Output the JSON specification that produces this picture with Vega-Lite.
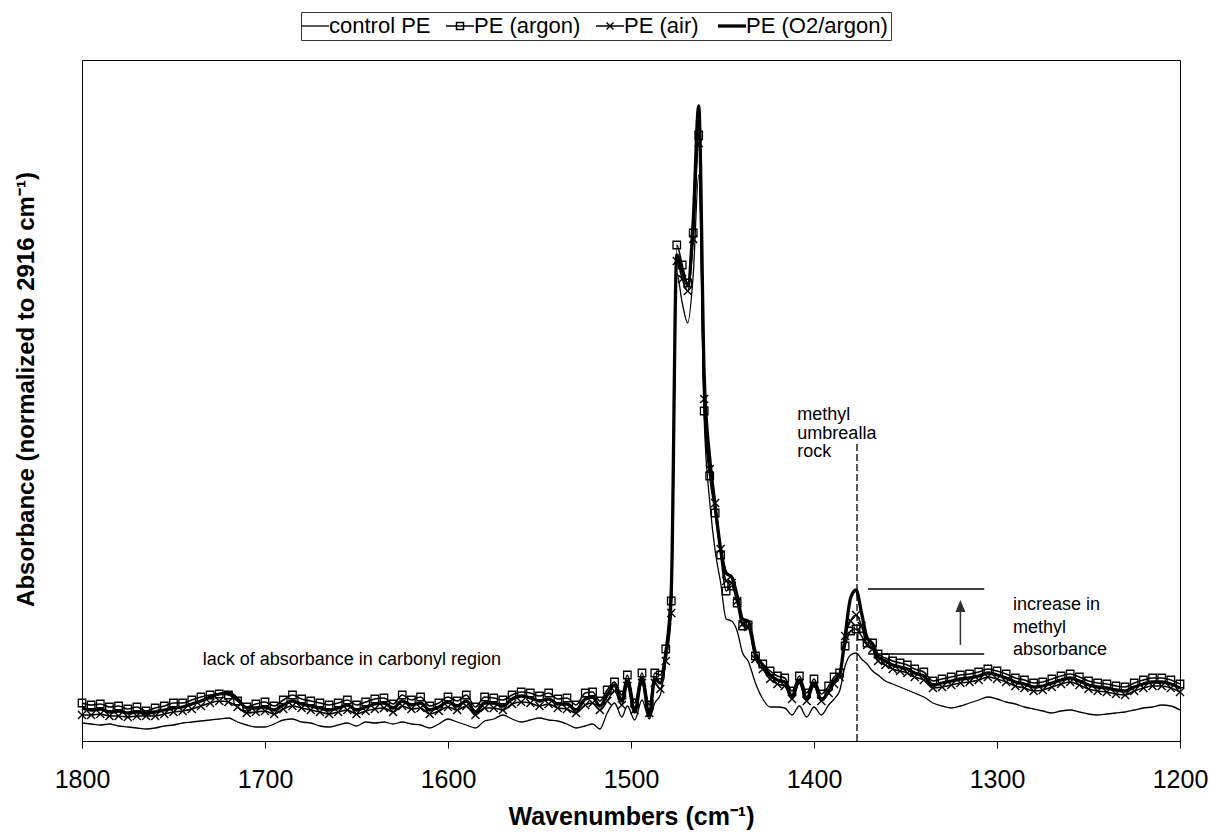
{
"$schema":"https://vega.github.io/schema/vega-lite/v6.json",
"width":1098,"height":681,
"autosize":{"type":"none"},
"padding":{"left":82,"top":60,"right":29,"bottom":96},
"background":"white",
"config":{"font":"Liberation Sans","view":{"stroke":"black","strokeWidth":1},"axis":{"grid":false}},
"datasets":{
"control":[{"w":1800,"a":0.018},{"w":1795,"a":0.017},{"w":1790,"a":0.016},{"w":1785,"a":0.017},{"w":1780,"a":0.015},{"w":1775,"a":0.014},{"w":1770,"a":0.013},{"w":1765,"a":0.012},{"w":1760,"a":0.013},{"w":1755,"a":0.015},{"w":1750,"a":0.016},{"w":1745,"a":0.018},{"w":1740,"a":0.019},{"w":1735,"a":0.02},{"w":1730,"a":0.021},{"w":1725,"a":0.022},{"w":1720,"a":0.023},{"w":1715,"a":0.019},{"w":1710,"a":0.016},{"w":1705,"a":0.014},{"w":1700,"a":0.014},{"w":1695,"a":0.017},{"w":1690,"a":0.021},{"w":1685,"a":0.022},{"w":1680,"a":0.019},{"w":1675,"a":0.018},{"w":1670,"a":0.015},{"w":1665,"a":0.014},{"w":1660,"a":0.016},{"w":1655,"a":0.018},{"w":1650,"a":0.015},{"w":1645,"a":0.019},{"w":1640,"a":0.018},{"w":1635,"a":0.019},{"w":1630,"a":0.017},{"w":1625,"a":0.019},{"w":1620,"a":0.017},{"w":1615,"a":0.016},{"w":1610,"a":0.013},{"w":1605,"a":0.017},{"w":1600,"a":0.022},{"w":1595,"a":0.019},{"w":1590,"a":0.016},{"w":1585,"a":0.013},{"w":1580,"a":0.02},{"w":1575,"a":0.022},{"w":1570,"a":0.026},{"w":1565,"a":0.022},{"w":1560,"a":0.019},{"w":1555,"a":0.021},{"w":1550,"a":0.023},{"w":1545,"a":0.021},{"w":1540,"a":0.02},{"w":1535,"a":0.017},{"w":1530,"a":0.013},{"w":1525,"a":0.015},{"w":1521,"a":0.017},{"w":1517,"a":0.012},{"w":1513,"a":0.028},{"w":1509,"a":0.038},{"w":1505,"a":0.024},{"w":1502,"a":0.035},{"w":1498,"a":0.021},{"w":1494,"a":0.041},{"w":1490,"a":0.022},{"w":1487,"a":0.038},{"w":1484,"a":0.046},{"w":1481,"a":0.082},{"w":1478,"a":0.14},{"w":1475,"a":0.468},{"w":1472,"a":0.438},{"w":1469,"a":0.418},{"w":1466,"a":0.466},{"w":1463,"a":0.566},{"w":1460,"a":0.322},{"w":1457,"a":0.24},{"w":1454,"a":0.19},{"w":1451,"a":0.158},{"w":1448,"a":0.122},{"w":1445,"a":0.12},{"w":1442,"a":0.11},{"w":1439,"a":0.088},{"w":1436,"a":0.08},{"w":1432,"a":0.058},{"w":1428,"a":0.042},{"w":1424,"a":0.034},{"w":1420,"a":0.034},{"w":1416,"a":0.033},{"w":1412,"a":0.026},{"w":1408,"a":0.035},{"w":1404,"a":0.024},{"w":1400,"a":0.034},{"w":1396,"a":0.026},{"w":1392,"a":0.036},{"w":1389,"a":0.042},{"w":1386,"a":0.05},{"w":1383,"a":0.075},{"w":1380,"a":0.086},{"w":1377,"a":0.088},{"w":1374,"a":0.082},{"w":1371,"a":0.077},{"w":1368,"a":0.07},{"w":1365,"a":0.066},{"w":1361,"a":0.06},{"w":1357,"a":0.057},{"w":1353,"a":0.054},{"w":1349,"a":0.051},{"w":1345,"a":0.048},{"w":1340,"a":0.044},{"w":1335,"a":0.038},{"w":1330,"a":0.035},{"w":1325,"a":0.033},{"w":1320,"a":0.035},{"w":1315,"a":0.038},{"w":1310,"a":0.041},{"w":1305,"a":0.044},{"w":1300,"a":0.042},{"w":1295,"a":0.039},{"w":1290,"a":0.037},{"w":1285,"a":0.034},{"w":1280,"a":0.032},{"w":1275,"a":0.03},{"w":1270,"a":0.028},{"w":1265,"a":0.03},{"w":1260,"a":0.031},{"w":1255,"a":0.029},{"w":1250,"a":0.027},{"w":1245,"a":0.026},{"w":1240,"a":0.027},{"w":1235,"a":0.028},{"w":1230,"a":0.029},{"w":1225,"a":0.031},{"w":1220,"a":0.033},{"w":1215,"a":0.034},{"w":1210,"a":0.036},{"w":1205,"a":0.035},{"w":1200,"a":0.031}],
"argon":[{"w":1800,"a":0.038},{"w":1795,"a":0.036},{"w":1790,"a":0.037},{"w":1785,"a":0.034},{"w":1780,"a":0.035},{"w":1775,"a":0.032},{"w":1770,"a":0.034},{"w":1765,"a":0.03},{"w":1760,"a":0.033},{"w":1755,"a":0.035},{"w":1750,"a":0.038},{"w":1745,"a":0.038},{"w":1740,"a":0.041},{"w":1735,"a":0.044},{"w":1730,"a":0.046},{"w":1725,"a":0.047},{"w":1720,"a":0.046},{"w":1715,"a":0.04},{"w":1710,"a":0.034},{"w":1705,"a":0.037},{"w":1700,"a":0.039},{"w":1695,"a":0.035},{"w":1690,"a":0.041},{"w":1685,"a":0.046},{"w":1680,"a":0.042},{"w":1675,"a":0.04},{"w":1670,"a":0.038},{"w":1665,"a":0.036},{"w":1660,"a":0.038},{"w":1655,"a":0.041},{"w":1650,"a":0.036},{"w":1645,"a":0.039},{"w":1640,"a":0.042},{"w":1635,"a":0.043},{"w":1630,"a":0.037},{"w":1625,"a":0.046},{"w":1620,"a":0.041},{"w":1615,"a":0.044},{"w":1610,"a":0.035},{"w":1605,"a":0.038},{"w":1600,"a":0.044},{"w":1595,"a":0.04},{"w":1590,"a":0.046},{"w":1585,"a":0.034},{"w":1580,"a":0.044},{"w":1575,"a":0.043},{"w":1570,"a":0.041},{"w":1565,"a":0.046},{"w":1560,"a":0.049},{"w":1555,"a":0.048},{"w":1550,"a":0.045},{"w":1545,"a":0.048},{"w":1540,"a":0.042},{"w":1535,"a":0.043},{"w":1530,"a":0.036},{"w":1525,"a":0.048},{"w":1521,"a":0.049},{"w":1517,"a":0.04},{"w":1513,"a":0.051},{"w":1509,"a":0.059},{"w":1505,"a":0.046},{"w":1502,"a":0.066},{"w":1498,"a":0.038},{"w":1494,"a":0.068},{"w":1490,"a":0.036},{"w":1487,"a":0.068},{"w":1484,"a":0.066},{"w":1481,"a":0.092},{"w":1478,"a":0.14},{"w":1475,"a":0.496},{"w":1472,"a":0.476},{"w":1469,"a":0.458},{"w":1466,"a":0.508},{"w":1463,"a":0.606},{"w":1460,"a":0.33},{"w":1457,"a":0.265},{"w":1454,"a":0.228},{"w":1451,"a":0.186},{"w":1448,"a":0.15},{"w":1445,"a":0.155},{"w":1442,"a":0.138},{"w":1439,"a":0.115},{"w":1436,"a":0.116},{"w":1432,"a":0.085},{"w":1428,"a":0.077},{"w":1424,"a":0.07},{"w":1420,"a":0.065},{"w":1416,"a":0.063},{"w":1412,"a":0.05},{"w":1408,"a":0.065},{"w":1404,"a":0.048},{"w":1400,"a":0.062},{"w":1396,"a":0.047},{"w":1392,"a":0.055},{"w":1389,"a":0.064},{"w":1386,"a":0.068},{"w":1383,"a":0.095},{"w":1380,"a":0.11},{"w":1377,"a":0.112},{"w":1374,"a":0.105},{"w":1371,"a":0.098},{"w":1368,"a":0.098},{"w":1365,"a":0.087},{"w":1361,"a":0.083},{"w":1357,"a":0.08},{"w":1353,"a":0.078},{"w":1349,"a":0.076},{"w":1345,"a":0.072},{"w":1340,"a":0.069},{"w":1335,"a":0.06},{"w":1330,"a":0.062},{"w":1325,"a":0.064},{"w":1320,"a":0.066},{"w":1315,"a":0.067},{"w":1310,"a":0.069},{"w":1305,"a":0.072},{"w":1300,"a":0.07},{"w":1295,"a":0.067},{"w":1290,"a":0.063},{"w":1285,"a":0.061},{"w":1280,"a":0.058},{"w":1275,"a":0.059},{"w":1270,"a":0.062},{"w":1265,"a":0.065},{"w":1260,"a":0.067},{"w":1255,"a":0.064},{"w":1250,"a":0.06},{"w":1245,"a":0.058},{"w":1240,"a":0.057},{"w":1235,"a":0.055},{"w":1230,"a":0.054},{"w":1225,"a":0.058},{"w":1220,"a":0.061},{"w":1215,"a":0.063},{"w":1210,"a":0.063},{"w":1205,"a":0.061},{"w":1200,"a":0.057}],
"air":[{"w":1800,"a":0.026},{"w":1795,"a":0.026},{"w":1790,"a":0.027},{"w":1785,"a":0.025},{"w":1780,"a":0.025},{"w":1775,"a":0.024},{"w":1770,"a":0.025},{"w":1765,"a":0.025},{"w":1760,"a":0.025},{"w":1755,"a":0.027},{"w":1750,"a":0.029},{"w":1745,"a":0.03},{"w":1740,"a":0.032},{"w":1735,"a":0.035},{"w":1730,"a":0.038},{"w":1725,"a":0.04},{"w":1720,"a":0.039},{"w":1715,"a":0.034},{"w":1710,"a":0.028},{"w":1705,"a":0.029},{"w":1700,"a":0.03},{"w":1695,"a":0.027},{"w":1690,"a":0.032},{"w":1685,"a":0.035},{"w":1680,"a":0.033},{"w":1675,"a":0.031},{"w":1670,"a":0.029},{"w":1665,"a":0.027},{"w":1660,"a":0.029},{"w":1655,"a":0.031},{"w":1650,"a":0.027},{"w":1645,"a":0.03},{"w":1640,"a":0.032},{"w":1635,"a":0.033},{"w":1630,"a":0.029},{"w":1625,"a":0.035},{"w":1620,"a":0.032},{"w":1615,"a":0.033},{"w":1610,"a":0.027},{"w":1605,"a":0.03},{"w":1600,"a":0.034},{"w":1595,"a":0.031},{"w":1590,"a":0.035},{"w":1585,"a":0.026},{"w":1580,"a":0.033},{"w":1575,"a":0.033},{"w":1570,"a":0.031},{"w":1565,"a":0.037},{"w":1560,"a":0.039},{"w":1555,"a":0.038},{"w":1550,"a":0.035},{"w":1545,"a":0.037},{"w":1540,"a":0.033},{"w":1535,"a":0.032},{"w":1530,"a":0.028},{"w":1525,"a":0.036},{"w":1521,"a":0.038},{"w":1517,"a":0.031},{"w":1513,"a":0.04},{"w":1509,"a":0.05},{"w":1505,"a":0.036},{"w":1502,"a":0.055},{"w":1498,"a":0.031},{"w":1494,"a":0.058},{"w":1490,"a":0.028},{"w":1487,"a":0.058},{"w":1484,"a":0.052},{"w":1481,"a":0.08},{"w":1478,"a":0.128},{"w":1475,"a":0.48},{"w":1472,"a":0.462},{"w":1469,"a":0.45},{"w":1466,"a":0.502},{"w":1463,"a":0.598},{"w":1460,"a":0.342},{"w":1457,"a":0.272},{"w":1454,"a":0.238},{"w":1451,"a":0.192},{"w":1448,"a":0.16},{"w":1445,"a":0.158},{"w":1442,"a":0.14},{"w":1439,"a":0.117},{"w":1436,"a":0.114},{"w":1432,"a":0.082},{"w":1428,"a":0.072},{"w":1424,"a":0.062},{"w":1420,"a":0.057},{"w":1416,"a":0.055},{"w":1412,"a":0.042},{"w":1408,"a":0.058},{"w":1404,"a":0.04},{"w":1400,"a":0.055},{"w":1396,"a":0.04},{"w":1392,"a":0.048},{"w":1389,"a":0.057},{"w":1386,"a":0.064},{"w":1383,"a":0.105},{"w":1380,"a":0.12},{"w":1377,"a":0.126},{"w":1374,"a":0.115},{"w":1371,"a":0.096},{"w":1368,"a":0.092},{"w":1365,"a":0.08},{"w":1361,"a":0.076},{"w":1357,"a":0.072},{"w":1353,"a":0.07},{"w":1349,"a":0.068},{"w":1345,"a":0.064},{"w":1340,"a":0.061},{"w":1335,"a":0.053},{"w":1330,"a":0.054},{"w":1325,"a":0.056},{"w":1320,"a":0.058},{"w":1315,"a":0.059},{"w":1310,"a":0.061},{"w":1305,"a":0.064},{"w":1300,"a":0.062},{"w":1295,"a":0.059},{"w":1290,"a":0.055},{"w":1285,"a":0.053},{"w":1280,"a":0.05},{"w":1275,"a":0.051},{"w":1270,"a":0.054},{"w":1265,"a":0.057},{"w":1260,"a":0.059},{"w":1255,"a":0.056},{"w":1250,"a":0.052},{"w":1245,"a":0.05},{"w":1240,"a":0.049},{"w":1235,"a":0.047},{"w":1230,"a":0.046},{"w":1225,"a":0.05},{"w":1220,"a":0.053},{"w":1215,"a":0.055},{"w":1210,"a":0.055},{"w":1205,"a":0.053},{"w":1200,"a":0.049}],
"o2":[{"w":1800,"a":0.033},{"w":1795,"a":0.031},{"w":1790,"a":0.032},{"w":1785,"a":0.029},{"w":1780,"a":0.03},{"w":1775,"a":0.028},{"w":1770,"a":0.029},{"w":1765,"a":0.028},{"w":1760,"a":0.029},{"w":1755,"a":0.031},{"w":1750,"a":0.033},{"w":1745,"a":0.034},{"w":1740,"a":0.037},{"w":1735,"a":0.04},{"w":1730,"a":0.044},{"w":1725,"a":0.047},{"w":1720,"a":0.048},{"w":1715,"a":0.042},{"w":1710,"a":0.033},{"w":1705,"a":0.033},{"w":1700,"a":0.034},{"w":1695,"a":0.031},{"w":1690,"a":0.036},{"w":1685,"a":0.04},{"w":1680,"a":0.037},{"w":1675,"a":0.035},{"w":1670,"a":0.033},{"w":1665,"a":0.031},{"w":1660,"a":0.033},{"w":1655,"a":0.036},{"w":1650,"a":0.031},{"w":1645,"a":0.034},{"w":1640,"a":0.037},{"w":1635,"a":0.038},{"w":1630,"a":0.033},{"w":1625,"a":0.04},{"w":1620,"a":0.036},{"w":1615,"a":0.038},{"w":1610,"a":0.031},{"w":1605,"a":0.034},{"w":1600,"a":0.039},{"w":1595,"a":0.035},{"w":1590,"a":0.04},{"w":1585,"a":0.029},{"w":1580,"a":0.038},{"w":1575,"a":0.038},{"w":1570,"a":0.035},{"w":1565,"a":0.042},{"w":1560,"a":0.045},{"w":1555,"a":0.043},{"w":1550,"a":0.04},{"w":1545,"a":0.042},{"w":1540,"a":0.037},{"w":1535,"a":0.037},{"w":1530,"a":0.031},{"w":1525,"a":0.042},{"w":1521,"a":0.044},{"w":1517,"a":0.035},{"w":1513,"a":0.046},{"w":1509,"a":0.056},{"w":1505,"a":0.04},{"w":1502,"a":0.06},{"w":1498,"a":0.029},{"w":1494,"a":0.063},{"w":1490,"a":0.025},{"w":1487,"a":0.062},{"w":1484,"a":0.058},{"w":1481,"a":0.088},{"w":1478,"a":0.15},{"w":1475,"a":0.486},{"w":1472,"a":0.47},{"w":1469,"a":0.456},{"w":1466,"a":0.52},{"w":1463,"a":0.635},{"w":1460,"a":0.365},{"w":1457,"a":0.283},{"w":1454,"a":0.235},{"w":1451,"a":0.192},{"w":1448,"a":0.168},{"w":1445,"a":0.164},{"w":1442,"a":0.145},{"w":1439,"a":0.122},{"w":1436,"a":0.12},{"w":1432,"a":0.088},{"w":1428,"a":0.076},{"w":1424,"a":0.066},{"w":1420,"a":0.061},{"w":1416,"a":0.059},{"w":1412,"a":0.045},{"w":1408,"a":0.061},{"w":1404,"a":0.042},{"w":1400,"a":0.058},{"w":1396,"a":0.041},{"w":1392,"a":0.05},{"w":1389,"a":0.06},{"w":1386,"a":0.066},{"w":1383,"a":0.105},{"w":1380,"a":0.143},{"w":1377,"a":0.151},{"w":1374,"a":0.128},{"w":1371,"a":0.103},{"w":1368,"a":0.097},{"w":1365,"a":0.084},{"w":1361,"a":0.08},{"w":1357,"a":0.076},{"w":1353,"a":0.074},{"w":1349,"a":0.072},{"w":1345,"a":0.068},{"w":1340,"a":0.065},{"w":1335,"a":0.056},{"w":1330,"a":0.058},{"w":1325,"a":0.06},{"w":1320,"a":0.062},{"w":1315,"a":0.063},{"w":1310,"a":0.065},{"w":1305,"a":0.068},{"w":1300,"a":0.066},{"w":1295,"a":0.063},{"w":1290,"a":0.059},{"w":1285,"a":0.057},{"w":1280,"a":0.054},{"w":1275,"a":0.055},{"w":1270,"a":0.058},{"w":1265,"a":0.061},{"w":1260,"a":0.063},{"w":1255,"a":0.06},{"w":1250,"a":0.056},{"w":1245,"a":0.054},{"w":1240,"a":0.053},{"w":1235,"a":0.051},{"w":1230,"a":0.05},{"w":1225,"a":0.054},{"w":1220,"a":0.057},{"w":1215,"a":0.059},{"w":1210,"a":0.059},{"w":1205,"a":0.057},{"w":1200,"a":0.053}]
},
"layer":[
{"encoding":{
"x":{"field":"w","type":"quantitative","scale":{"domain":[1200,1800],"reverse":true,"nice":false,"zero":false},
"axis":{"values":[1800,1700,1600,1500,1400,1300,1200],"format":"d","title":"Wavenumbers (cm⁻¹)","titleFontSize":25,"titleFontWeight":"bold","titleColor":"black","titlePadding":12,"labelFontSize":25,"labelColor":"black","labelPadding":19,"labelFlush":false,"labelOverlap":false,"tickSize":7,"tickColor":"black","domainColor":"black"}},
"y":{"field":"a","type":"quantitative","scale":{"domain":[0,0.681],"nice":false,"zero":false},
"axis":{"labels":false,"ticks":false,"domainColor":"black","title":"Absorbance (normalized to 2916 cm⁻¹)","titleFontSize":24,"titleFontWeight":"bold","titleColor":"black","titlePadding":44,"titleY":329}}
},
"layer":[
{"data":{"name":"control"},"mark":{"type":"line","interpolate":"monotone","strokeWidth":1.3},
"encoding":{"order":{"field":"w","sort":"descending"},
"color":{"datum":"control PE","scale":{"domain":["control PE","PE (argon)","PE (air)","PE (O2/argon)"],"range":["black","black","black","black"]},
"legend":{"title":null,"orient":"none","legendX":219,"legendY":-48,"direction":"horizontal","symbolType":"stroke","symbolSize":784,"symbolStrokeColor":"black","symbolStrokeWidth":1.5,"labelFontSize":22,"labelColor":"black","labelOffset":3,"columnPadding":12,"padding":3,"strokeColor":"#333333",
"encode":{"symbols":{
"update":{"shape":{"signal":"datum.value === 'PE (argon)' ? 'M-1,0H1M-0.25,-0.25H0.25V0.25H-0.25Z' : datum.value === 'PE (air)' ? 'M-1,0H1M-0.25,-0.25L0.25,0.25M-0.25,0.25L0.25,-0.25' : 'stroke'"},"strokeWidth":{"signal":"datum.value === 'PE (O2/argon)' ? 3.3 : datum.value === 'control PE' ? 1.3 : 1.5"},"fill":{"value":"transparent"},"stroke":{"value":"black"}},
"shape":{"value":{"expr":"datum.value === 'PE (argon)' ? 'M-1,0H1M-0.25,-0.25H0.25V0.25H-0.25Z' : datum.value === 'PE (air)' ? 'M-1,0H1M-0.25,-0.25L0.25,0.25M-0.25,0.25L0.25,-0.25' : 'stroke'"}},
"strokeWidth":{"value":{"expr":"datum.value === 'PE (O2/argon)' ? 3.3 : datum.value === 'control PE' ? 1.3 : 1.5"}}}}}}}},
{"data":{"name":"argon"},"mark":{"type":"line","interpolate":"monotone","strokeWidth":1.6},
"encoding":{"order":{"field":"w","sort":"descending"},"color":{"datum":"PE (argon)"}}},
{"data":{"name":"argon"},"mark":{"type":"point","shape":"square","size":56,"filled":false,"stroke":"black","strokeWidth":1.3,"opacity":1},"encoding":{}},
{"data":{"name":"air"},"mark":{"type":"line","interpolate":"monotone","strokeWidth":1.6},
"encoding":{"order":{"field":"w","sort":"descending"},"color":{"datum":"PE (air)"}}},
{"data":{"name":"air"},"mark":{"type":"point","shape":"M-1,-1L1,1M-1,1L1,-1","size":64,"filled":false,"stroke":"black","strokeWidth":1.4,"opacity":1},"encoding":{}},
{"data":{"name":"o2"},"mark":{"type":"line","interpolate":"monotone","strokeWidth":3.3},
"encoding":{"order":{"field":"w","sort":"descending"},"color":{"datum":"PE (O2/argon)"}}}
]},
{"data":{"values":[{}]},"mark":{"type":"rule","strokeDash":[7,3],"strokeWidth":1.3,"color":"black"},
"encoding":{"x":{"datum":1376.5,"type":"quantitative"},"y":{"datum":0,"type":"quantitative"},"y2":{"datum":0.299}}},
{"data":{"values":[{}]},"mark":{"type":"rule","strokeWidth":1.3,"color":"black"},
"encoding":{"x":{"datum":1370.5,"type":"quantitative"},"x2":{"datum":1307},"y":{"datum":0.152,"type":"quantitative"}}},
{"data":{"values":[{}]},"mark":{"type":"rule","strokeWidth":1.3,"color":"black"},
"encoding":{"x":{"datum":1370.5,"type":"quantitative"},"x2":{"datum":1307},"y":{"datum":0.087,"type":"quantitative"}}},
{"data":{"values":[{}]},"mark":{"type":"rule","strokeWidth":1.5,"color":"#303030"},
"encoding":{"x":{"datum":1320,"type":"quantitative"},"y":{"datum":0.096,"type":"quantitative"},"y2":{"datum":0.13}}},
{"data":{"values":[{}]},"mark":{"type":"point","shape":"M0,-0.6L-0.5,0.6L0.5,0.6Z","size":400,"filled":true,"color":"#303030","opacity":1},
"encoding":{"x":{"datum":1320,"type":"quantitative"},"y":{"datum":0.135,"type":"quantitative"}}},
{"data":{"values":[{}]},"mark":{"type":"text","text":"lack of absorbance in carbonyl region","align":"left","baseline":"alphabetic","fontSize":18,"color":"black"},
"encoding":{"x":{"datum":1734,"type":"quantitative"},"y":{"datum":0.076,"type":"quantitative"}}},
{"data":{"values":[{}]},"mark":{"type":"text","text":["methyl","umbrealla","rock"],"align":"left","baseline":"alphabetic","fontSize":18,"lineHeight":18.5,"color":"black"},
"encoding":{"x":{"datum":1409.1,"type":"quantitative"},"y":{"datum":0.321,"type":"quantitative"}}},
{"data":{"values":[{}]},"mark":{"type":"text","text":["increase in","methyl","absorbance"],"align":"left","baseline":"alphabetic","fontSize":18,"lineHeight":22.5,"color":"black"},
"encoding":{"x":{"datum":1291.3,"type":"quantitative"},"y":{"datum":0.131,"type":"quantitative"}}}
]
}
